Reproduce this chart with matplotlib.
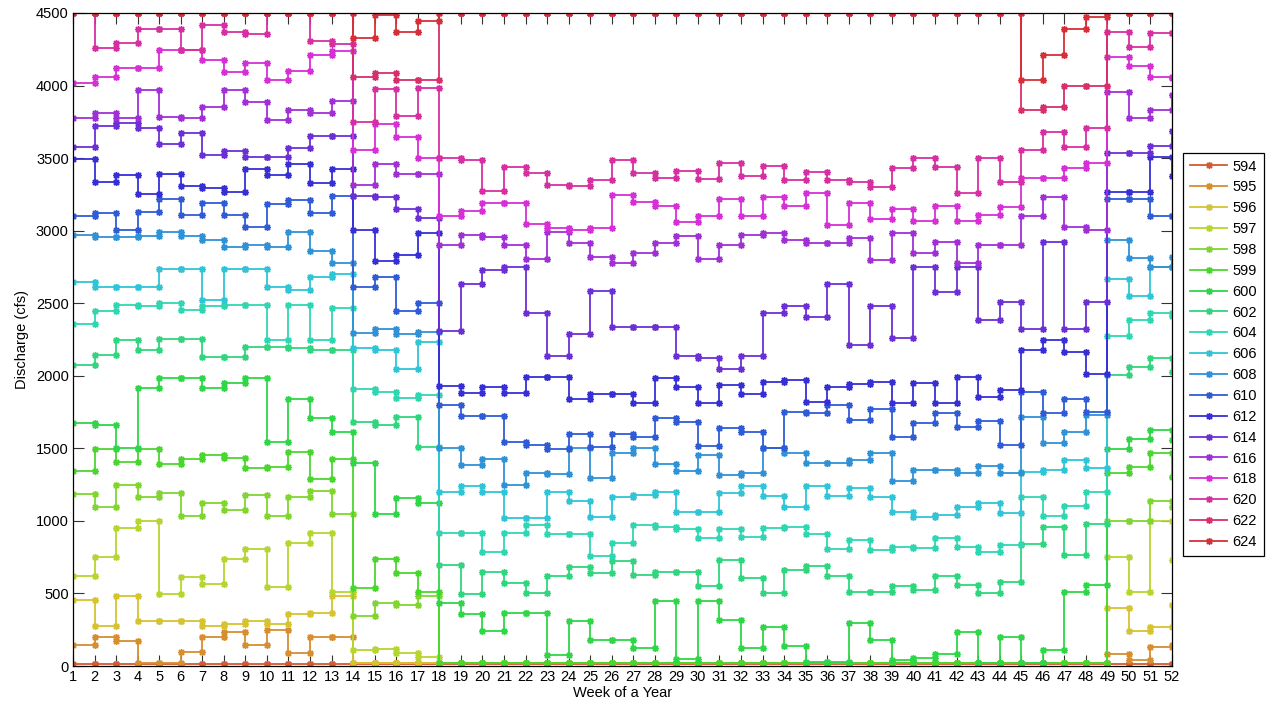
import matplotlib
matplotlib.use('Agg')
import matplotlib.pyplot as plt
import colorsys

plt.rcParams['font.family'] = ['Liberation Sans', 'DejaVu Sans']

weeks = [1, 2, 3, 4, 5, 6, 7, 8, 9, 10, 11, 12, 13, 14, 15, 16, 17, 18, 19, 20, 21, 22, 23, 24, 25, 26,
         27, 28, 29, 30, 31, 32, 33, 34, 35, 36, 37, 38, 39, 40, 41, 42, 43, 44, 45, 46, 47, 48, 49, 50, 51, 52]
series_labels = ['594', '595', '596', '597', '598', '599', '600', '602', '604', '606',
                 '608', '610', '612', '614', '616', '618', '620', '622', '624']

s594 = [15, 15, 15, 15, 15, 15, 15, 15, 15, 15, 15, 15, 15, 15, 15, 15, 15, 15, 15, 15, 15, 15, 15, 15, 15, 15,
        15, 15, 15, 15, 15, 15, 15, 15, 15, 15, 15, 15, 15, 15, 15, 15, 15, 15, 15, 15, 15, 15, 15, 15, 15, 15]
s595 = [144, 197, 174, 18, 18, 98, 197, 232, 144, 248, 92, 197, 200,
        18, 18, 18, 18, 18, 18, 18, 18, 18, 18, 18, 18, 18, 18, 18, 18, 18, 18, 18, 18, 18, 18, 18, 18, 18,
        18, 18, 18, 18, 18, 18, 18, 18, 18, 18, 80, 41, 133, 144]
s596 = [455, 275, 484, 310, 310, 310, 275, 287, 310, 287, 356, 363, 484,
        18, 18, 18, 18, 18, 18, 18, 18, 18, 18, 18, 18, 18, 18, 18, 18, 18, 18, 18, 18, 18, 18, 18, 18, 18,
        18, 18, 18, 18, 18, 18, 18, 18, 18, 18, 397, 243, 271, 420]
s597 = [622, 753, 948, 1001, 496, 611, 562, 735, 806, 546, 850, 914, 512,
        110, 115, 92, 64,
        18, 18, 18, 18, 18, 18, 18, 18, 18, 18, 18, 18, 18, 18, 18, 18, 18, 18, 18, 18, 18,
        18, 18, 18, 18, 18, 18, 18, 18, 18, 18, 753, 507, 1001, 730]
s598 = [1185, 1098, 1247, 1162, 1190, 1033, 1121, 1075, 1178, 1033, 1167, 1208, 1045,
        346, 436, 418, 484,
        18, 18, 18, 18, 18, 18, 18, 18, 18, 18, 18, 18, 18, 18, 18, 18, 18, 18, 18, 18, 18,
        18, 18, 18, 18, 18, 18, 18, 18, 18, 18, 1001, 1001, 1139, 1093]
s599 = [1346, 1495, 1408, 1495, 1392, 1424, 1454, 1431, 1362, 1373, 1472, 1288, 1424,
        539, 735, 643, 512,
        18, 18, 18, 18, 18, 18, 18, 18, 18, 18, 18, 18, 18, 18, 18, 18, 18, 18, 18, 18, 18,
        18, 18, 18, 18, 18, 18, 18, 18, 18, 18, 1327, 1369, 1465, 1304]
s600 = [1676, 1660, 1500, 1913, 1986, 1986, 1913, 1947, 1986, 1545, 1837, 1706, 1614,
        1396, 1045, 1160, 1125,
        432, 358, 243, 367, 367, 76, 310, 179, 179, 122, 450, 46, 450, 317, 122, 266, 138, 30, 30, 294,
        179, 41, 57, 80, 232, 20, 202,
        20, 110, 507, 558, 1495, 1561, 1626, 1557]
s602 = [2074, 2143, 2246, 2177, 2251, 2251, 2127, 2127, 2200, 2200, 2189, 2177, 2177,
        1683, 1660, 1713, 1506,
        696, 496, 650, 574, 500, 620, 684, 638, 726, 627, 650, 650, 551, 730, 608, 500, 661, 689, 622, 512,
        512, 553, 523, 622, 558, 500, 581,
        840, 960, 765, 978, 2005, 2062, 2120, 2028]
s604 = [2356, 2448, 2487, 2478, 2502, 2453, 2484, 2487, 2487, 2246, 2487, 2246, 2464,
        1906, 1890, 1844, 1867,
        914, 914, 788, 914, 971, 909, 909, 758, 845, 971, 955, 941, 879, 941, 886, 948, 960, 909, 804, 868,
        799, 822, 811, 879, 822, 788, 834,
        1167, 1033, 1102, 1201, 2274, 2384, 2430, 2410]
s606 = [2648, 2613, 2613, 2613, 2733, 2733, 2522, 2733, 2733, 2609, 2591, 2678, 2701,
        2189, 2177, 2044, 2235,
        1201, 1240, 1201, 1017, 1017, 1201, 1139, 1024, 1167, 1180, 1201, 1063, 1063, 1190, 1240, 1171,
        1093, 1240, 1171, 1224, 1167, 1063, 1029, 1040, 1093, 1125, 1056,
        1335, 1350, 1419, 1362, 2664, 2552, 2747, 2747]
s608 = [2970, 2955, 2955, 2960, 2990, 2960, 2935, 2885, 2900, 2885, 2990, 2862, 2774,
        2297, 2320, 2290, 2303,
        1500, 1385, 1424, 1247, 1332, 1323, 1500, 1293, 1465, 1500, 1392, 1346, 1454, 1317, 1327, 1500,
        1465, 1396, 1396, 1419, 1465, 1277, 1350, 1350, 1327, 1378, 1327,
        1718, 1534, 1614, 1729, 2935, 2809, 2747, 2820]
s610 = [3101, 3124, 3004, 3131, 3216, 3108, 3193, 3108, 3027, 3184, 3211, 3119, 3239,
        2614, 2678, 2448, 2504,
        1798, 1725, 1725, 1545, 1522, 1495, 1598, 1506, 1598, 1575, 1711, 1679, 1516, 1642, 1612, 1500,
        1752, 1745, 1798, 1695, 1768, 1580, 1676, 1745, 1649, 1690, 1522,
        1890, 1745, 1837, 1752, 3216, 3216, 3103, 3103]
s612 = [3496, 3337, 3383, 3252, 3390, 3307, 3291, 3268, 3422, 3383, 3459, 3326, 3422,
        3004, 2793, 2832, 2986,
        1929, 1883, 1924, 1883, 1989, 1993, 1837, 1874, 1874, 1814, 1986, 1920, 1810, 1936, 1874, 1959,
        1970, 1817, 1924, 1943, 1960, 1814, 1952, 1810, 1993, 1856, 1901,
        2177, 2246, 2166, 2012, 3268, 3268, 3510, 3376]
s614 = [3579, 3721, 3744, 3705, 3597, 3670, 3521, 3550, 3510, 3510, 3567, 3652, 3652,
        3238, 3234, 3147, 3085,
        2311, 2632, 2728, 2751, 2430, 2136, 2285, 2584, 2333, 2333, 2333, 2136, 2120, 2046, 2138, 2430,
        2480, 2402, 2632, 2212, 2480, 2257, 2751, 2579, 2751, 2384, 2510,
        2320, 2924, 2320, 2510, 3533, 3533, 3583, 3686]
s616 = [3774, 3813, 3774, 3969, 3785, 3774, 3854, 3969, 3889, 3762, 3831, 3808, 3895,
        3314, 3457, 3390, 3390,
        2901, 2970, 2953, 2901, 2802, 2992, 2917, 2820, 2774, 2843, 2917, 2963, 2802, 2901, 2970, 2981,
        2935, 2917, 2917, 2947, 2797, 2981, 2848, 2924, 2780, 2901, 2901,
        3101, 3234, 3027, 3004, 3958, 3774, 3831, 3935]
s618 = [4015, 4056, 4118, 4118, 4245, 4245, 4176, 4095, 4153, 4038, 4102, 4210, 4240,
        3556, 3735, 3647, 3498,
        3101, 3137, 3193, 3193, 3046, 3020, 3004, 3016, 3245, 3195, 3172, 3062, 3101, 3216, 3101, 3234,
        3170, 3257, 3039, 3188, 3078, 3147, 3069, 3170, 3069, 3108, 3165,
        3360, 3360, 3434, 3464, 4199, 4137, 4061, 4050]
s620 = [4500, 4261, 4295, 4392, 4392, 4245, 4417, 4371, 4353, 4500, 4500, 4306, 4284,
        3751, 3974, 3790, 3980,
        3498, 3487, 3273, 3441, 3399, 3314, 3310, 3349, 3487, 3399, 3360, 3413, 3356, 3464, 3379, 3448,
        3349, 3402, 3349, 3337, 3298, 3429, 3498, 3441, 3257, 3498, 3333,
        3555, 3682, 3578, 3705, 4371, 4268, 4360, 4364]
s622 = [4500, 4500, 4500, 4500, 4500, 4500, 4500, 4500, 4500, 4500, 4500, 4500, 4500,
        4056, 4084, 4038, 4038,
        4500, 4500, 4500, 4500, 4500, 4500, 4500, 4500, 4500, 4500, 4500, 4500, 4500, 4500, 4500, 4500,
        4500, 4500, 4500, 4500, 4500, 4500, 4500, 4500, 4500, 4500, 4500,
        3831, 3850, 3997, 3997, 4500, 4500, 4500, 4500]
s624 = [4500, 4500, 4500, 4500, 4500, 4500, 4500, 4500, 4500, 4500, 4500, 4500, 4500,
        4330, 4486, 4371, 4447,
        4500, 4500, 4500, 4500, 4500, 4500, 4500, 4500, 4500, 4500, 4500, 4500, 4500, 4500, 4500, 4500,
        4500, 4500, 4500, 4500, 4500, 4500, 4500, 4500, 4500, 4500, 4500,
        4038, 4210, 4389, 4474, 4500, 4500, 4500, 4500]

all_series = [s594, s595, s596, s597, s598, s599, s600, s602, s604, s606,
              s608, s610, s612, s614, s616, s618, s620, s622, s624]

y_ticks = [0, 500, 1000, 1500, 2000, 2500, 3000, 3500, 4000, 4500]

W, H = 1274, 713
fig = plt.figure(figsize=(W / 100, H / 100), dpi=100)
ax = fig.add_axes([73 / W, 47 / H, 1099 / W, 653 / H])

handles = []
for i, (lab, vals) in enumerate(zip(series_labels, all_series)):
    hue = ((15 + 19 * i) % 360) / 360.0
    col = colorsys.hsv_to_rgb(hue, 0.78, 0.84)
    xs, ys = [], []
    for w, v in zip(weeks, vals):
        xs += [w, w + 1]
        ys += [v, v]
    h, = ax.plot(xs, ys, color=col, lw=1.3, marker=(8, 2, 0), ms=5, mew=1.0,
                 label=lab, zorder=2 + i)
    handles.append(h)

ax.set_xlim(1, 52)
ax.set_ylim(0, 4500)
ax.set_xticks(weeks)
ax.set_xticklabels([str(w) for w in weeks])
ax.set_yticks(y_ticks)
ax.set_yticklabels([str(t) for t in y_ticks])
ax.tick_params(direction='in', length=8, width=0.8, top=True, right=True,
               labelsize=10.5, color='#333333', pad=3)
for sp in ax.spines.values():
    sp.set_linewidth(0.9)
    sp.set_color('black')
    sp.set_zorder(50)

ax.set_xlabel('Week of a Year', fontsize=10.5, labelpad=1)
ax.set_ylabel('Discharge (cfs)', fontsize=10.5, labelpad=5)

leg = ax.legend(handles=handles, loc='upper left',
                bbox_to_anchor=(1183 / W, 1 - 153 / H), bbox_transform=fig.transFigure,
                frameon=True, fancybox=False, edgecolor='black', framealpha=1,
                borderaxespad=0, handlelength=2.6, labelspacing=0.47, fontsize=10.5,
                borderpad=0.45, handletextpad=0.35, numpoints=1)
leg.get_frame().set_linewidth(0.9)

fig.savefig('out.png', dpi=100)
